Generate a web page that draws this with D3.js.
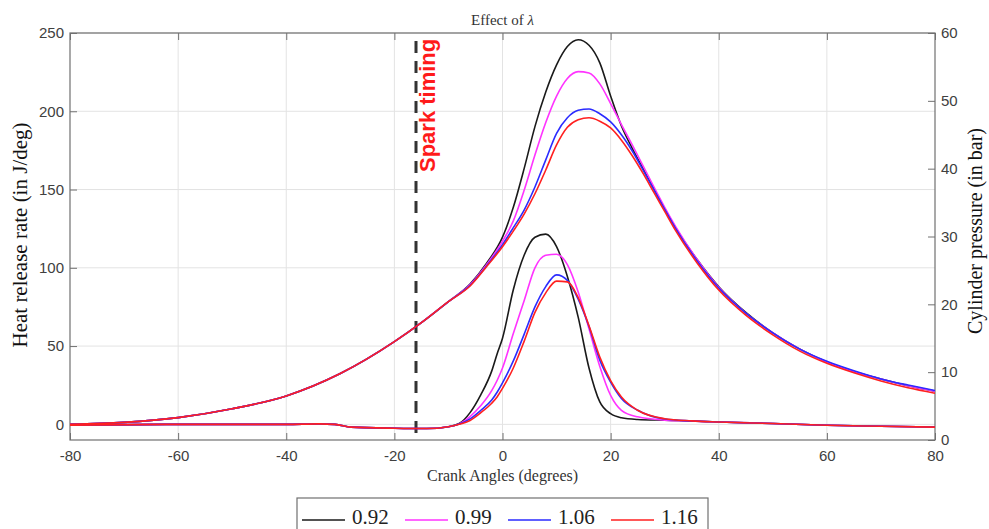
<!DOCTYPE html>
<html>
<head>
<meta charset="utf-8">
<script src="https://cdn.jsdelivr.net/npm/d3@7"></script>
<style>
  body { margin: 0; background: #fff; }
  svg { display: block; }
</style>
</head>
<body>
<svg id="chart" width="989" height="529"></svg>
<script>
// ---- data ----
var lambdas = ["0.92", "0.99", "1.06", "1.16"];
var colors = ["#1a1a1a", "#ff33ff", "#2b2bff", "#ff2020"];

// cylinder pressure (bar), right axis
var pAngles = [-80, -70, -60, -50, -40, -30, -20, -15, -10, -6, -3, 0, 2, 4, 6, 8, 10, 12, 14, 16, 18, 20, 22, 24, 26, 28, 30, 32, 36, 40, 45, 50, 55, 60, 65, 70, 75, 80];
var p092 = [2.3, 2.6, 3.3, 4.6, 6.5, 9.8, 14.5, 17.3, 20.4, 23.0, 26.0, 29.9, 34.3, 40.0, 46.2, 51.3, 55.3, 58.0, 59.0, 58.2, 55.6, 50.7, 46.3, 43.0, 40.0, 37.0, 34.1, 31.3, 26.6, 22.6, 18.8, 15.8, 13.4, 11.5, 10.1, 9.0, 8.0, 7.2];
var p099 = [2.3, 2.6, 3.3, 4.6, 6.5, 9.8, 14.5, 17.3, 20.4, 22.9, 25.8, 29.3, 32.3, 36.8, 42.0, 46.8, 50.7, 53.3, 54.3, 54.1, 52.5, 49.6, 46.5, 43.5, 40.4, 37.3, 34.3, 31.5, 26.6, 22.5, 18.7, 15.8, 13.4, 11.5, 10.1, 9.0, 8.0, 7.2];
var p106 = [2.3, 2.6, 3.3, 4.6, 6.5, 9.8, 14.5, 17.3, 20.4, 22.8, 25.6, 28.8, 31.3, 33.9, 37.3, 41.3, 45.2, 47.5, 48.6, 48.8, 48.1, 46.9, 45.0, 42.6, 39.8, 36.9, 34.0, 31.2, 26.4, 22.4, 18.7, 15.8, 13.4, 11.6, 10.2, 9.0, 8.1, 7.3];
var p116 = [2.3, 2.6, 3.3, 4.6, 6.5, 9.8, 14.5, 17.3, 20.4, 22.7, 25.5, 28.5, 30.8, 33.3, 36.3, 39.8, 43.5, 46.1, 47.2, 47.5, 47.0, 46.0, 44.2, 41.9, 39.3, 36.5, 33.7, 30.9, 26.1, 22.1, 18.4, 15.5, 13.1, 11.3, 9.9, 8.7, 7.7, 6.9];

// heat release rate (J/deg), left axis
var hAngles = [-80, -60, -40, -34, -31, -28, -20, -14, -10, -8, -6, -4, -2, -1, 0, 2, 4, 6, 8, 10, 12, 14, 16, 18, 20, 22, 25, 30, 35, 40, 50, 60, 70, 80];
var h092 = [-0.5, 0, 0, 0.3, 0, -1.8, -2.5, -2.7, -1.5, 0.5, 7.5, 19, 34, 45, 55, 86, 108, 119.5, 121.5, 113.5, 94.5, 68.5, 36, 14.3, 6.8, 4.2, 3.1, 2.6, 2.1, 1.5, 0.5, -0.6, -1.2, -1.7];
var h099 = [-0.5, 0, 0, 0.3, 0, -1.8, -2.5, -2.7, -1.5, 0.3, 5, 12, 21.5, 28, 36, 58, 79, 100, 108, 108.7, 102, 84.5, 61, 37, 18.5, 9, 4.8, 2.7, 2.1, 1.5, 0.5, -0.6, -1.2, -1.7];
var h106 = [-0.5, 0, 0, 0.3, 0, -1.8, -2.5, -2.7, -1.5, 0.2, 3.5, 9, 15.5, 20.5, 26.5, 40.5, 57.5, 75, 88, 95.5, 92, 80, 62.5, 41, 27, 16.5, 9, 3.4, 2.2, 1.5, 0.5, -0.6, -1.2, -1.7];
var h116 = [-0.5, 0, 0, 0.3, 0, -1.8, -2.5, -2.7, -1.5, 0, 2.5, 7.5, 13.5, 17.5, 23, 36, 53, 71.5, 84, 91.5, 91, 81, 63, 43, 28, 17.5, 9, 3.6, 2.2, 1.5, 0.5, -0.6, -1.2, -1.8];

var sparkAngle = -16;
var xTicks = [-80, -60, -40, -20, 0, 20, 40, 60, 80];
var yLeftTicks = [0, 50, 100, 150, 200, 250];
var yRightTicks = [0, 10, 20, 30, 40, 50, 60];

var pressure = [p092, p099, p106, p116];
var hrr = [h092, h099, h106, h116];

// ---- layout ----
var plotL = 70, plotR = 935, plotT = 33, plotB = 440;
var svg = d3.select("#chart");

var x = d3.scaleLinear().domain([-80, 80]).range([plotL, plotR]);
var yL = d3.scaleLinear().domain([-10, 250]).range([plotB, plotT]);
var yR = d3.scaleLinear().domain([0, 60]).range([plotB, plotT]);

var tickFont = "'Liberation Sans', Arial, sans-serif";
var serif = "'Liberation Serif', 'Times New Roman', serif";

// grid
svg.append("g").selectAll("line")
  .data(xTicks.slice(1, -1))
  .join("line")
  .attr("x1", d => x(d)).attr("x2", d => x(d))
  .attr("y1", plotT).attr("y2", plotB)
  .attr("stroke", "#e3e3e3").attr("stroke-width", 1);

svg.append("g").selectAll("line")
  .data(yLeftTicks)
  .join("line")
  .attr("x1", plotL).attr("x2", plotR)
  .attr("y1", d => yL(d)).attr("y2", d => yL(d))
  .attr("stroke", "#e3e3e3").attr("stroke-width", 1);

// axes (ticks pointing inward, matlab style)
function styleAxis(g) {
  g.select(".domain").remove();
  g.selectAll(".tick line").attr("stroke", "#707070");
  g.selectAll(".tick text")
    .attr("fill", "#404040")
    .style("font-family", tickFont)
    .style("font-size", "15px");
}
var plain = d => String(d);   // keep the plain hyphen minus like the original

svg.append("g")
  .attr("transform", "translate(0," + plotB + ")")
  .call(d3.axisBottom(x).tickValues(xTicks).tickFormat(plain).tickSizeInner(-7).tickSizeOuter(0).tickPadding(10))
  .call(styleAxis);

svg.append("g")
  .attr("transform", "translate(0," + plotT + ")")
  .call(d3.axisTop(x).tickValues(xTicks).tickSizeInner(-7).tickSizeOuter(0).tickFormat(""))
  .call(styleAxis);

svg.append("g")
  .attr("transform", "translate(" + plotL + ",0)")
  .call(d3.axisLeft(yL).tickValues(yLeftTicks).tickFormat(plain).tickSizeInner(-7).tickSizeOuter(0).tickPadding(6))
  .call(styleAxis);

svg.append("g")
  .attr("transform", "translate(" + plotR + ",0)")
  .call(d3.axisRight(yR).tickValues(yRightTicks).tickFormat(plain).tickSizeInner(-7).tickSizeOuter(0).tickPadding(6))
  .call(styleAxis);

// frame
svg.append("rect")
  .attr("x", plotL).attr("y", plotT)
  .attr("width", plotR - plotL).attr("height", plotB - plotT)
  .attr("fill", "none").attr("stroke", "#707070").attr("stroke-width", 1.2);

// clip for the curves
svg.append("clipPath").attr("id", "plotclip")
  .append("rect")
  .attr("x", plotL).attr("y", plotT)
  .attr("width", plotR - plotL).attr("height", plotB - plotT);

var plot = svg.append("g").attr("clip-path", "url(#plotclip)");

// spark timing marker
plot.append("line")
  .attr("x1", x(sparkAngle)).attr("x2", x(sparkAngle))
  .attr("y1", plotT + 8).attr("y2", plotB)
  .attr("stroke", "#333").attr("stroke-width", 3)
  .attr("stroke-dasharray", "12,8");

var pLine = d3.line().curve(d3.curveMonotoneX)
  .x((d, i) => x(pAngles[i])).y(d => yR(d));
var hLine = d3.line().curve(d3.curveMonotoneX)
  .x((d, i) => x(hAngles[i])).y(d => yL(d));

lambdas.forEach(function(l, k) {
  plot.append("path")
    .datum(pressure[k])
    .attr("d", pLine)
    .attr("fill", "none")
    .attr("stroke", colors[k])
    .attr("stroke-width", 1.6);
  plot.append("path")
    .datum(hrr[k])
    .attr("d", hLine)
    .attr("fill", "none")
    .attr("stroke", colors[k])
    .attr("stroke-width", 1.6);
});

svg.append("text")
  .attr("transform", "translate(" + (x(sparkAngle) + 19) + ",172) rotate(-90)")
  .attr("fill", "#ff1a1a")
  .style("font-family", tickFont)
  .style("font-weight", "700")
  .style("font-size", "22px")
  .text("Spark timing");

// titles
var title = svg.append("text")
  .attr("x", (plotL + plotR) / 2).attr("y", 25)
  .attr("text-anchor", "middle")
  .attr("fill", "#333")
  .style("font-family", serif)
  .style("font-size", "15px");
title.append("tspan").text("Effect of ");
title.append("tspan").style("font-style", "italic").text("λ");

svg.append("text")
  .attr("x", (plotL + plotR) / 2).attr("y", 481)
  .attr("text-anchor", "middle")
  .attr("fill", "#333")
  .style("font-family", serif)
  .style("font-size", "16px")
  .text("Crank Angles (degrees)");

svg.append("text")
  .attr("transform", "translate(27,235) rotate(-90)")
  .attr("text-anchor", "middle")
  .attr("fill", "#111")
  .style("font-family", serif)
  .style("font-size", "21px")
  .text("Heat release rate (in J/deg)");

svg.append("text")
  .attr("transform", "translate(982,231) rotate(-90)")
  .attr("text-anchor", "middle")
  .attr("fill", "#111")
  .style("font-family", serif)
  .style("font-size", "20px")
  .text("Cylinder pressure (in bar)");

// legend
var legend = svg.append("g");
legend.append("rect")
  .attr("x", 297).attr("y", 498)
  .attr("width", 411).attr("height", 34)
  .attr("fill", "#fff").attr("stroke", "#707070").attr("stroke-width", 1.2);

var items = legend.selectAll("g.item")
  .data(lambdas)
  .join("g")
  .attr("class", "item")
  .attr("transform", (d, i) => "translate(" + (302 + i * 103) + ",0)");

items.append("line")
  .attr("x1", 0).attr("x2", 43)
  .attr("y1", 520).attr("y2", 520)
  .attr("stroke", (d, i) => colors[i])
  .attr("stroke-width", 1.6);

items.append("text")
  .attr("x", 50).attr("y", 524)
  .attr("fill", "#222")
  .style("font-family", serif)
  .style("font-size", "21px")
  .text(d => d);
</script>
</body>
</html>
